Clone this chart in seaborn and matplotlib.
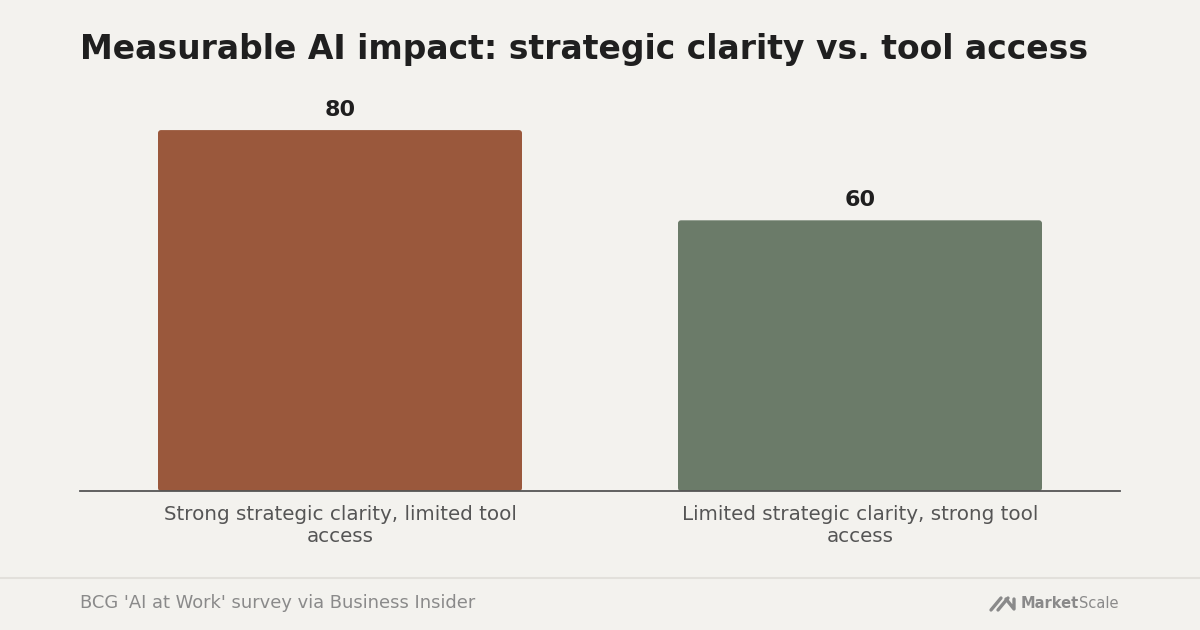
import matplotlib
matplotlib.use("Agg")
import matplotlib.pyplot as plt
import seaborn as sns
import pandas as pd
from matplotlib.patches import FancyBboxPatch

categories = ["Strong strategic clarity, limited tool\naccess",
              "Limited strategic clarity, strong tool\naccess"]
values = [80, 60]
colors = ["#9A583C", "#6B7B69"]

title = "Measurable AI impact: strategic clarity vs. tool access"
source = "BCG 'AI at Work' survey via Business Insider"

bg = "#F3F2EE"
sns.set_theme(style="white")
plt.rcParams["font.family"] = ["DejaVu Sans"]

df = pd.DataFrame({"cat": categories, "val": values})

fig = plt.figure(figsize=(12, 6.3), dpi=100, facecolor=bg)
ax = fig.add_axes([80 / 1200, 1 - 491 / 630, 1040 / 1200, (491 - 94) / 630])
ax.set_facecolor(bg)

sns.barplot(data=df, x="cat", y="val", hue="cat", palette=colors,
            width=0.7, legend=False, ax=ax, saturation=1)
ax.set_xlim(-0.5, 1.5)
ax.set_ylim(0, 88)

# rounded top corners
px_x = 2.0 / 1040
px_y = 88.0 / 397
for p in list(ax.patches):
    x, y = p.get_x(), p.get_y()
    w, h = p.get_width(), p.get_height()
    fc = p.get_facecolor()
    p.set_visible(False)
    r = FancyBboxPatch((x, y), w, h,
                       boxstyle="round,pad=0,rounding_size=%f" % (3 * px_x),
                       mutation_aspect=px_y / px_x,
                       facecolor=fc, edgecolor="none", zorder=2)
    ax.add_patch(r)

for i, v in enumerate(values):
    ax.text(i, v + 2.2, str(v), ha="center", va="bottom",
            fontsize=16, fontweight="bold", color="#1F1F1F")

for s in ["top", "right", "left"]:
    ax.spines[s].set_visible(False)
ax.spines["bottom"].set_color("#555555")
ax.spines["bottom"].set_linewidth(1.3)
ax.set_yticks([])
ax.set_xlabel("")
ax.set_ylabel("")
ax.tick_params(axis="x", length=0, pad=10, labelsize=14.3, labelcolor="#555555")

fig.text(80 / 1200, 1 - 49 / 630, title, ha="left", va="center",
         fontsize=23.8, fontweight="bold", color="#1F1F1F")

fig.add_artist(plt.Line2D([0, 1], [1 - 578 / 630, 1 - 578 / 630],
                          color="#E2E0DB", linewidth=1.5))
fig.text(80 / 1200, 1 - 603 / 630, source, ha="left", va="center",
         fontsize=12.9, color="#8A8A8A")

# logo
logo_c = "#8A8A8A"
t_scale = fig.text(1119 / 1200, 1 - 604 / 630, "Scale", ha="right", va="center",
                   fontsize=10.5, color=logo_c)
renderer = fig.canvas.get_renderer()
bb = t_scale.get_window_extent(renderer)
fig.text((bb.x0 - 0.5) / 1200, 1 - 604 / 630, "Market", ha="right", va="center",
         fontsize=10.5, fontweight="bold", color=logo_c)
for dx in [0, 7]:
    fig.add_artist(plt.Line2D([(991 + dx) / 1200, (1001 + dx) / 1200],
                              [1 - 610 / 630, 1 - 598 / 630],
                              color=logo_c, linewidth=2.4))
fig.add_artist(plt.Line2D([1006 / 1200, 1014 / 1200, 1014 / 1200],
                          [1 - 599 / 630, 1 - 609 / 630, 1 - 599 / 630],
                          color=logo_c, linewidth=2.4))

fig.savefig("out.png", dpi=100, facecolor=bg)
